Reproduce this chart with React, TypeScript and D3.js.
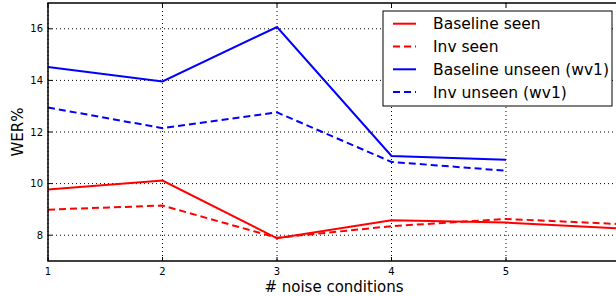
import React, { useRef, useEffect } from 'react';
import * as d3 from 'd3';

const noiseConditions = [1, 2, 3, 4, 5, 6];
const baselineSeen = [9.77, 10.12, 7.88, 8.58, 8.49, 8.26];
const invSeen = [8.99, 9.15, 7.9, 8.35, 8.63, 8.43];
const baselineUnseen = [14.52, 13.96, 16.07, 11.07, 10.92];
const invUnseen = [12.95, 12.15, 12.76, 10.84, 10.5];

const xTicks = [1, 2, 3, 4, 5];
const yTicks = [8, 10, 12, 14, 16];

const seriesList = [
  { name: 'Baseline seen', values: baselineSeen, color: '#ff0000', dashed: false },
  { name: 'Inv seen', values: invSeen, color: '#ff0000', dashed: true },
  { name: 'Baseline unseen (wv1)', values: baselineUnseen, color: '#0000ff', dashed: false },
  { name: 'Inv unseen (wv1)', values: invUnseen, color: '#0000ff', dashed: true },
];

const WerChart: React.FC = () => {
  const svgRef = useRef<SVGSVGElement | null>(null);

  useEffect(() => {
    if (!svgRef.current) return;
    const width = 616;
    const height = 296;
    const margin = { top: 3, left: 48, right: -4.5, bottom: 35 };
    const innerW = width - margin.left - margin.right;
    const innerH = height - margin.top - margin.bottom;
    const font = 'DejaVu Sans, sans-serif';

    const svg = d3.select(svgRef.current);
    svg.selectAll('*').remove();

    const x = d3.scaleLinear().domain([1, 6]).range([0, innerW]);
    const y = d3.scaleLinear().domain([7, 17]).range([innerH, 0]);

    const g = svg.append('g').attr('transform', `translate(${margin.left},${margin.top})`);

    // grid
    g.selectAll('.vgrid')
      .data(xTicks)
      .enter()
      .append('line')
      .attr('x1', d => x(d))
      .attr('x2', d => x(d))
      .attr('y1', 0)
      .attr('y2', innerH)
      .attr('stroke', '#000')
      .attr('stroke-width', 1)
      .attr('stroke-dasharray', '1,3');
    g.selectAll('.hgrid')
      .data(yTicks)
      .enter()
      .append('line')
      .attr('x1', 0)
      .attr('x2', innerW)
      .attr('y1', d => y(d))
      .attr('y2', d => y(d))
      .attr('stroke', '#000')
      .attr('stroke-width', 1)
      .attr('stroke-dasharray', '1,3');

    // lines
    const line = d3
      .line<number>()
      .x((_, i) => x(noiseConditions[i]))
      .y(d => y(d));
    seriesList.forEach(s => {
      g.append('path')
        .datum(s.values)
        .attr('d', line)
        .attr('fill', 'none')
        .attr('stroke', s.color)
        .attr('stroke-width', 2)
        .attr('stroke-dasharray', s.dashed ? '7,4' : null);
    });

    // spines
    g.append('rect')
      .attr('x', 0)
      .attr('y', 0)
      .attr('width', innerW)
      .attr('height', innerH)
      .attr('fill', 'none')
      .attr('stroke', '#000')
      .attr('stroke-width', 1.5);

    // ticks (inward)
    xTicks.forEach(t => {
      g.append('line').attr('x1', x(t)).attr('x2', x(t)).attr('y1', innerH).attr('y2', innerH - 4).attr('stroke', '#000');
      g.append('line').attr('x1', x(t)).attr('x2', x(t)).attr('y1', 0).attr('y2', 4).attr('stroke', '#000');
      g.append('text')
        .attr('x', x(t))
        .attr('y', innerH + 14)
        .attr('text-anchor', 'middle')
        .attr('font-family', font)
        .attr('font-size', 10)
        .text(t);
    });
    yTicks.forEach(t => {
      g.append('line').attr('x1', 0).attr('x2', 4).attr('y1', y(t)).attr('y2', y(t)).attr('stroke', '#000');
      g.append('text')
        .attr('x', -5)
        .attr('y', y(t))
        .attr('dy', '0.35em')
        .attr('text-anchor', 'end')
        .attr('font-family', font)
        .attr('font-size', 10)
        .text(t);
    });

    // axis labels
    svg.append('text')
      .attr('x', 334)
      .attr('y', 292)
      .attr('text-anchor', 'middle')
      .attr('font-family', font)
      .attr('font-size', 15)
      .text('# noise conditions');
    svg.append('text')
      .attr('transform', `translate(23,132) rotate(-90)`)
      .attr('text-anchor', 'middle')
      .attr('font-family', font)
      .attr('font-size', 15)
      .text('WER%');

    // legend
    const lg = svg.append('g').attr('transform', 'translate(383,11)');
    lg.append('rect')
      .attr('width', 229)
      .attr('height', 95)
      .attr('fill', '#fff')
      .attr('stroke', '#000')
      .attr('stroke-width', 1);
    seriesList.forEach((s, i) => {
      const yy = 12.7 + i * 22.8;
      lg.append('line')
        .attr('x1', 10)
        .attr('x2', 33)
        .attr('y1', yy)
        .attr('y2', yy)
        .attr('stroke', s.color)
        .attr('stroke-width', 2)
        .attr('stroke-dasharray', s.dashed ? '7,4' : null);
      lg.append('text')
        .attr('x', 50)
        .attr('y', yy)
        .attr('dy', '0.35em')
        .attr('font-family', font)
        .attr('font-size', 15.5)
        .text(s.name);
    });
  }, []);

  return <svg ref={svgRef} width={616} height={296} style={{ position: 'absolute', left: 0, top: 0 }} />;
};

export default function App() {
  return <WerChart />;
}
